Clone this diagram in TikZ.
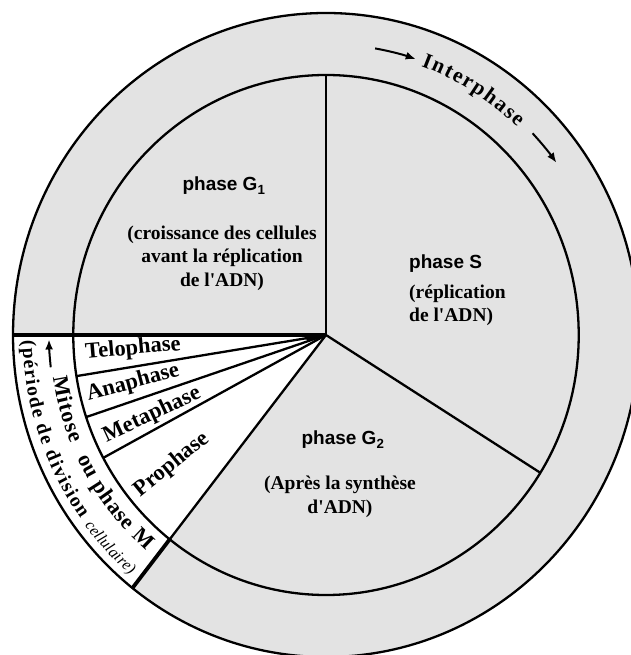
\documentclass[tikz,border=0pt]{standalone}
\usepackage{fontspec}
\setmainfont{Liberation Serif}
\setsansfont{Liberation Sans}
\usetikzlibrary{positioning,decorations.text,arrows.meta}

\definecolor{ringgray}{gray}{0.89}
\tikzset{
  ringline/.style={line width=2.3pt},
  cutline/.style={line width=3.8pt},
  phasename/.style={font=\fontsize{19}{23}\selectfont\sffamily\bfseries,inner sep=0pt},
  phasetext/.style={font=\fontsize{19.5}{23.5}\selectfont\bfseries,align=center,inner sep=0pt},
  mitolabel/.style={font=\fontsize{22.5}{26}\selectfont\bfseries,inner sep=0pt},
  cyclearrow/.style={line width=2pt,-{Latex[length=10pt,width=8pt]}},
}

\begin{document}
\begin{tikzpicture}[x=1pt,y=1pt]
\useasboundingbox (-326,-320) rectangle (304,335);
\begin{scope}[xscale=0.972]
  \coordinate (O) at (0,0);
  \fill[ringgray] (O) circle (322);
  \fill[white] (O) -- (180:322) arc[start angle=180,end angle=231.8,radius=322] -- cycle;
  \draw[ringline] (O) circle (322);
  \draw[ringline] (O) circle (260);
  \draw[ringline] (O) -- (90:260);
  \draw[ringline] (O) -- (-32:260);
  \foreach \a in {189.1,198.4,208.2,231.8}
    \draw[ringline] (O) -- (\a:260);
  \fill (O) -- (180:24) -- (196:20) -- cycle;
  \draw[cutline] (O) -- (180:322);
  \draw[cutline] (231.8:259) -- (231.8:322);
  \draw[cyclearrow] (80:291) arc[start angle=80,end angle=71.5,radius=291];
  \draw[cyclearrow] (43.5:293) arc[start angle=43.5,end angle=36,radius=293];
  \draw[cyclearrow] (186.5:285) arc[start angle=186.5,end angle=180.9,radius=285];
  \path[decorate,decoration={text along path,text align={fit to path},
    text={|\fontsize{21.5}{21.5}\selectfont\bfseries|Interphase}}]
    (70:286) arc[start angle=70,end angle=46.5,radius=286];
  \path[decorate,decoration={text along path,text align={fit to path},
    text={|\fontsize{22}{22}\selectfont\bfseries|Mitose}}]
    (188.5:284) arc[start angle=188.5,end angle=202.5,radius=284];
  \path[decorate,decoration={text along path,text align={fit to path},
    text={|\fontsize{22}{22}\selectfont\bfseries|ou phase M}}]
    (205.7:284) arc[start angle=205.7,end angle=229.4,radius=284];
  \path[decorate,decoration={text along path,text align={fit to path},
    text={|\fontsize{19.5}{19.5}\selectfont\bfseries|(période de division}}]
    (181:312) arc[start angle=181,end angle=216,radius=312];
  \path[decorate,decoration={text along path,text align={fit to path},
    text={|\fontsize{16}{16}\selectfont\itshape|cellulaire)}}]
    (217.5:313) arc[start angle=217.5,end angle=230,radius=313];
\end{scope}

\node[phasename] (g1) at (-102,149) {phase G\textsubscript{1}};
\node[phasetext] (g1txt) at (-104,77) {(croissance des cellules\\avant la réplication\\de l\textquotesingle ADN)};
\node[phasename,anchor=west] (s) at (83,71) {phase S};
\node[phasetext,align=left,anchor=west] (stxt) at (83,29.5) {(réplication\\de l\textquotesingle ADN)};
\node[phasename] (g2) at (17,-105) {phase G\textsubscript{2}};
\node[phasetext] (g2txt) at (14,-162) {(Après la synthèse\\d\textquotesingle ADN)};

\node[mitolabel,rotate=5] (telo) at (-193,-14) {Telophase};
\node[mitolabel,rotate=15] (ana) at (-193,-48) {Anaphase};
\node[mitolabel,rotate=25] (meta) at (-174,-80) {Metaphase};
\node[mitolabel,rotate=39] (pro) at (-154,-130) {Prophase};
\end{tikzpicture}
\end{document}
